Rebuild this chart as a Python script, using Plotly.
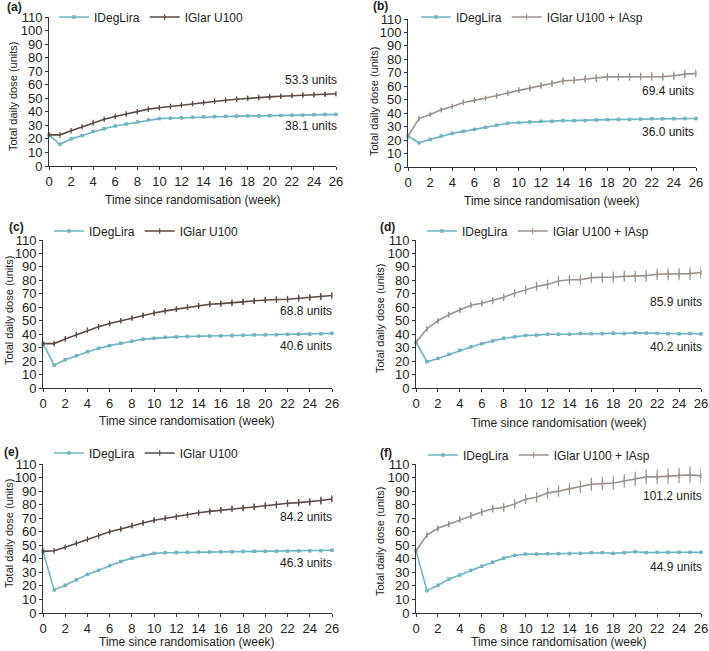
import plotly.graph_objects as go

# weeks since randomisation
weeks = list(range(27))

# (a)
a_ideglira = [23, 16, 20, 22.5, 25.5, 27.5, 29.5, 31, 32.5, 34, 35, 35.3, 35.6, 36, 36.3, 36.5, 36.7,
              36.8, 37, 37, 37.2, 37.3, 37.5, 37.6, 37.8, 38, 38.1]
a_iglar = [23, 23, 26, 29, 32, 34.5, 36.5, 38.5, 40, 42, 43, 44, 45, 46, 46.8, 47.8, 48.5, 49.3, 50,
           50.5, 51, 51.5, 52, 52.3, 52.7, 53, 53.3]
a_iglar_err = [0.6, 0.7, 0.8, 0.8, 0.9, 0.9, 1.0, 1.0, 1.0, 1.0, 1.1, 1.1, 1.1, 1.2, 1.2, 1.2, 1.2,
               1.3, 1.3, 1.3, 1.3, 1.4, 1.4, 1.4, 1.5, 1.5, 1.5]

# (b)
b_ideglira = [23, 18, 20.5, 23, 25, 26.5, 28, 29.5, 31, 32.5, 33, 33.5, 34, 34, 34.5, 34.5, 34.5, 35,
              35.2, 35.3, 35.3, 35.6, 35.8, 35.8, 35.9, 36, 36.0]
b_iglar_iasp = [23, 36, 39, 42.5, 45, 48, 49.5, 51, 53, 55, 57, 58.5, 60.5, 62, 64, 64.5, 65.5, 66, 67,
                67, 67, 67.2, 67.3, 67.2, 67.8, 69, 69.4]
b_iglar_iasp_err = [0.8, 1.2, 1.4, 1.5, 1.6, 1.7, 1.8, 1.9, 2.0, 2.1, 2.2, 2.3, 2.4, 2.5, 2.6, 2.7,
                    2.8, 2.8, 2.9, 2.9, 3.0, 3.0, 3.1, 3.1, 3.2, 3.3, 3.5]

# (c)
c_ideglira = [33, 17, 21, 24, 27, 29.5, 31.5, 33.3, 34.7, 36.3, 37, 37.7, 38, 38.3, 38.5, 38.6, 38.8,
              39, 39.2, 39.4, 39.5, 39.6, 39.9, 40, 40.1, 40.3, 40.6]
c_iglar = [33, 33, 36.5, 39.5, 43, 45.5, 48, 50, 52, 54, 55.7, 57.3, 58.5, 60, 61, 62.3, 62.7, 63.2,
           64, 64.8, 65.5, 65.8, 66, 66.7, 67.3, 68, 68.8]
c_iglar_err = [0.8, 1.0, 1.1, 1.2, 1.3, 1.4, 1.5, 1.5, 1.6, 1.7, 1.8, 1.9, 2.0, 2.0, 2.1, 2.2, 2.2,
               2.3, 2.3, 2.4, 2.4, 2.5, 2.5, 2.6, 2.6, 2.7, 2.8]

# (d)
d_ideglira = [34, 19.5, 22, 25, 28, 30.5, 33, 35, 37, 38, 39, 39.3, 40, 40, 40, 40.5, 40.4, 40.4,
              40.7, 40.5, 41, 40.8, 40.6, 40.3, 40.3, 40.5, 40.2]
d_iglar_iasp = [34, 44, 50, 54.5, 58, 61.5, 63, 65, 67.5, 70.5, 73, 75.5, 77, 79.5, 80.5, 80.5, 82, 82,
                82.5, 83, 83, 83.5, 84.5, 84.5, 84.5, 85, 85.9]
d_iglar_iasp_err = [1.0, 1.5, 1.7, 1.9, 2.1, 2.3, 2.5, 2.7, 2.9, 3.1, 3.3, 3.4, 3.5, 3.6, 3.7, 3.8,
                    3.9, 4.0, 4.0, 4.1, 4.2, 4.3, 4.3, 4.4, 4.5, 4.6, 4.8]

# (e)
e_ideglira = [45.5, 17, 20.5, 24.5, 28.5, 31.5, 35, 38, 40.5, 42.5, 44, 44.5, 44.6, 44.8, 45, 45,
              45.2, 45.2, 45.4, 45.5, 45.6, 45.6, 45.7, 45.8, 45.9, 46, 46.3]
e_iglar = [45.5, 46, 48.5, 51.5, 54.5, 57, 60, 62, 64.5, 66.5, 68.5, 70, 71, 72.5, 74, 75, 76, 77,
           77.5, 78.3, 79.3, 80, 81, 81.5, 82, 83, 84.2]
e_iglar_err = [0.8, 1.0, 1.1, 1.2, 1.3, 1.4, 1.5, 1.6, 1.7, 1.8, 1.9, 2.0, 2.0, 2.1, 2.2, 2.2, 2.3,
               2.3, 2.4, 2.5, 2.5, 2.6, 2.6, 2.7, 2.8, 2.9, 3.0]

# (f)
f_ideglira = [46, 16.5, 20.5, 25, 28, 31.5, 34.5, 37.5, 40.5, 42.5, 43.5, 43.5, 43.7, 43.8, 43.9, 44,
              44.5, 44.5, 44, 44.5, 45.2, 44.6, 44.8, 44.8, 44.8, 44.8, 44.9]
f_iglar_iasp = [46, 57.5, 62.5, 65.5, 69, 72, 74.5, 77, 78, 80.5, 84, 85.5, 88.5, 90, 91.5, 93, 95,
                95.5, 96, 97.5, 99, 100.5, 100.5, 101, 101.5, 102, 101.2]
f_iglar_iasp_err = [1.2, 1.8, 2.0, 2.2, 2.4, 2.6, 2.8, 3.0, 3.2, 3.4, 3.6, 3.8, 4.0, 4.2, 4.4, 4.6,
                    4.8, 4.9, 5.0, 5.1, 5.2, 5.4, 5.5, 5.6, 5.8, 6.0, 6.0]

# end-of-trial labels
end_labels = [("53.3 units", "38.1 units"), ("69.4 units", "36.0 units"),
              ("68.8 units", "40.6 units"), ("85.9 units", "40.2 units"),
              ("84.2 units", "46.3 units"), ("101.2 units", "44.9 units")]
panel_letters = ["(a)", "(b)", "(c)", "(d)", "(e)", "(f)"]
comparator_names = ["IGlar U100", "IGlar U100 + IAsp"] * 3

W, H = 709, 651
FONT = "Arial, Liberation Sans, sans-serif"
TXT = "#222222"
TEAL = "#6fb4be"
BROWN = "#5a4a45"
GREY = "#9c928d"

# pixel boxes of every panel: left, right, top, bottom
boxes = [(49, 336, 17, 166), (408, 696, 19, 167),
         (43, 332, 240, 388), (416, 701, 240, 388),
         (43, 332, 464, 613), (416, 701, 464, 613)]

panels = [
    (a_ideglira, a_iglar, a_iglar_err),
    (b_ideglira, b_iglar_iasp, b_iglar_iasp_err),
    (c_ideglira, c_iglar, c_iglar_err),
    (d_ideglira, d_iglar_iasp, d_iglar_iasp_err),
    (e_ideglira, e_iglar, e_iglar_err),
    (f_ideglira, f_iglar_iasp, f_iglar_iasp_err),
]

# placement of texts (pixels)
letter_pos = [(5, 7), (371, 6), (7, 227), (378, 227), (2, 452), (378, 453)]
legend_pos = [(54, 17), (416, 17), (49, 231), (422, 231), (49, 453), (423, 455)]
ytitle_pos = [(13, 97), (374, 101), (9, 311), (380, 319), (9, 534), (380, 542)]
xtitle_y = [200, 201, 421, 423, 642, 642]
label_y = [(63.5, 29.5), (56.5, 26), (57.2, 31.2), (64, 30.5), (70.9, 36.9), (86.4, 34)]
label_shift = [3, 0, 2, 3, 2, 3]

fig = go.Figure()
layout = dict(width=W, height=H, margin=dict(l=0, r=0, t=0, b=0, autoexpand=False),
              paper_bgcolor="white", plot_bgcolor="white",
              font=dict(family=FONT, size=12, color=TXT), annotations=[])

for i, (ideg, comp, comp_err) in enumerate(panels):
    n = "" if i == 0 else str(i + 1)
    leg = "legend" + n
    comp_color = BROWN if i % 2 == 0 else GREY

    fig.add_trace(go.Scatter(
        x=weeks, y=ideg, name="IDegLira", mode="lines+markers",
        line=dict(color=TEAL, width=1.6), marker=dict(symbol="square", size=3.5, color=TEAL),
        xaxis="x" + n, yaxis="y" + n, legend=leg, cliponaxis=False))
    fig.add_trace(go.Scatter(
        x=weeks, y=comp, name=comparator_names[i], mode="lines+markers",
        line=dict(color=comp_color, width=1.6),
        marker=dict(symbol="line-ns-open", size=4, color=comp_color, line=dict(width=1.2, color=comp_color)),
        error_y=dict(type="data", array=comp_err, width=0, thickness=1.2, color=comp_color),
        xaxis="x" + n, yaxis="y" + n, legend=leg, cliponaxis=False))

    l, r, t, b = boxes[i]
    axis_common = dict(showline=True, linecolor="#333333", linewidth=1, ticks="outside",
                       ticklen=3, tickwidth=1, tickcolor="#333333", showgrid=False,
                       zeroline=False, automargin=False, tickfont=dict(size=13, color=TXT))
    layout["xaxis" + n] = dict(axis_common, domain=[l / W, r / W], range=[0, 26], dtick=2,
                               anchor="y" + n)
    layout["yaxis" + n] = dict(axis_common, domain=[1 - b / H, 1 - t / H], range=[0, 110], dtick=10,
                               anchor="x" + n)

    lx, ly = legend_pos[i]
    layout[leg] = dict(x=lx / W, y=1 - ly / H, xref="container", yref="container",
                       xanchor="left", yanchor="middle",
                       orientation="h", bgcolor="rgba(0,0,0,0)", font=dict(size=12, color=TXT),
                       itemwidth=30, tracegroupgap=0)

    ann = layout["annotations"]
    px, py = letter_pos[i]
    ann.append(dict(text="<b>" + panel_letters[i] + "</b>", x=px / W, y=1 - py / H, xref="paper",
                    yref="paper", xanchor="left", yanchor="middle", showarrow=False,
                    font=dict(size=12, color=TXT)))
    tx, ty = ytitle_pos[i]
    ann.append(dict(text="Total daily dose (units)", x=tx / W, y=1 - ty / H, xref="paper",
                    yref="paper", xanchor="center", yanchor="middle", textangle=-90,
                    showarrow=False, font=dict(size=11, color=TXT)))
    ann.append(dict(text="Time since randomisation (week)", x=(l + r) / 2 / W, y=1 - xtitle_y[i] / H,
                    xref="paper", yref="paper", xanchor="center", yanchor="middle",
                    showarrow=False, font=dict(size=12, color=TXT)))
    top_txt, bot_txt = end_labels[i]
    for txt, yv in zip((top_txt, bot_txt), label_y[i]):
        ann.append(dict(text=txt, x=26, y=yv, xref="x" + n, yref="y" + n, xanchor="right",
                        yanchor="middle", xshift=label_shift[i], showarrow=False,
                        font=dict(size=12, color=TXT)))

fig.update_layout(**layout)
# the page body has a default 8px margin; drop it so the figure fills the window
fig.write_html("out.html", config={"displayModeBar": False},
               post_script="document.body.style.margin='0';")
